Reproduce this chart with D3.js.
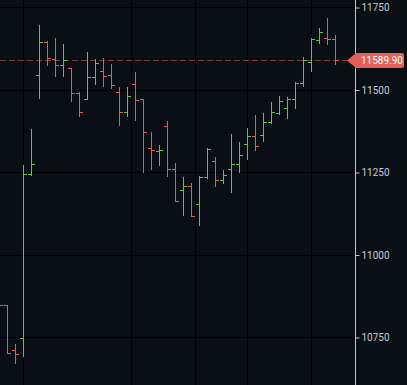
<!DOCTYPE html>
<html lang="en">
<head>
<meta charset="utf-8" />
<title>ohlc</title>
<script src="https://d3js.org/d3.v7.min.js"></script>
<style>
  html, body { margin: 0; padding: 0; background: #0a0f16; overflow: hidden; }
  svg { display: block; }
  .tick text { font-family: Roboto, "Open Sans", sans-serif; font-size: 10px; fill: #c9cbce; }
</style>
</head>
<body>
<div id="chart"></div>
<script>
// bar values, first bar is half cut off on the left edge
var opens  = [10870, 10848, 10711, 10747, 11244, 11543, 11644, 11593, 11574, 11565,
              11488, 11471, 11537, 11557, 11545, 11493, 11431, 11517, 11472, 11323,
              11315, 11390, 11260, 11194, 11207, 11153, 11234, 11283, 11227, 11259,
              11274, 11335, 11360, 11363, 11400, 11429, 11443, 11472, 11520, 11583,
              11649, 11657, 11652];
var highs  = [10880, 10850, 10730, 11274, 11383, 11698, 11649, 11659, 11640, 11567,
              11495, 11614, 11595, 11598, 11580, 11508, 11510, 11556, 11474, 11372,
              11333, 11405, 11280, 11237, 11219, 11239, 11323, 11296, 11257, 11366,
              11343, 11386, 11423, 11431, 11464, 11482, 11478, 11523, 11600, 11659,
              11689, 11717, 11668];
var lows   = [10840, 10700, 10669, 10691, 11239, 11474, 11574, 11540, 11540, 11464,
              11417, 11469, 11516, 11508, 11502, 11391, 11417, 11406, 11249, 11259,
              11271, 11235, 11161, 11117, 11114, 11088, 11229, 11206, 11214, 11188,
              11249, 11289, 11314, 11343, 11396, 11424, 11411, 11441, 11508, 11555,
              11638, 11636, 11577];
var closes = [10848, 10702, 10699, 11244, 11274, 11644, 11595, 11574, 11590, 11488,
              11432, 11537, 11581, 11541, 11515, 11432, 11481, 11469, 11370, 11316,
              11317, 11260, 11163, 11209, 11118, 11236, 11321, 11227, 11242, 11274,
              11302, 11360, 11330, 11402, 11431, 11464, 11472, 11520, 11589, 11653,
              11674, 11652, 11589.9];

var yTicks = [10750, 11000, 11250, 11500, 11750];
// vertical grid lines, in bar index units (time separators)
var gridIdx = [3, 16.5, 24.5, 31, 39];
var lastPrice = 11589.90;

var width = 407, height = 385;
var axisX = 355.5;
var up = "#66c24a", down = "#e85a55";

var svg = d3.select("#chart").append("svg")
    .attr("width", width)
    .attr("height", height);

svg.append("rect")
    .attr("width", width).attr("height", height)
    .attr("fill", "#0a0f16");

var x = d3.scaleLinear().domain([0, 42]).range([-0.5, 335.5]);
var y = d3.scaleLinear().domain([10750, 11750]).range([337.5, 7.5]);

function py(v) { return Math.round(y(v) - 0.5) + 0.5; }

// grid
svg.append("g").selectAll("line")
    .data(yTicks).enter().append("line")
    .attr("x1", 0).attr("x2", axisX)
    .attr("y1", function(d){ return py(d); })
    .attr("y2", function(d){ return py(d); })
    .attr("stroke", "#000").attr("stroke-width", 1);

svg.append("g").selectAll("line")
    .data(gridIdx).enter().append("line")
    .attr("x1", function(d){ return x(d); })
    .attr("x2", function(d){ return x(d); })
    .attr("y1", 0).attr("y2", height)
    .attr("stroke", "#000").attr("stroke-width", 1);

// last price dashed line
svg.append("line")
    .attr("x1", 0).attr("x2", 347)
    .attr("y1", py(lastPrice)).attr("y2", py(lastPrice))
    .attr("stroke", "#e0625b").attr("stroke-opacity", 0.55)
    .attr("stroke-dasharray", "6,3");

// bars: one path per bar (high-low, open tick left, close tick right)
svg.append("g").selectAll("path")
    .data(opens).enter().append("path")
    .attr("fill", "none")
    .attr("stroke-width", 1)
    .attr("shape-rendering", "crispEdges")
    .attr("stroke", function(d, i){ return closes[i] >= opens[i] ? up : down; })
    .attr("d", function(d, i){
        var cx = x(i);
        return "M" + cx + "," + Math.round(y(highs[i])) + "V" + Math.round(y(lows[i])) +
               "M" + (cx - 3.5) + "," + py(opens[i]) + "H" + cx +
               "M" + cx + "," + py(closes[i]) + "H" + (cx + 3.5);
    });

// right price axis
svg.append("line")
    .attr("x1", axisX).attr("x2", axisX)
    .attr("y1", 0).attr("y2", height)
    .attr("stroke", "#c4c6c9");

var yAxis = d3.axisRight(y)
    .tickValues(yTicks)
    .tickSize(4)
    .tickPadding(2)
    .tickFormat(d3.format("d"));

var ax = svg.append("g")
    .attr("transform", "translate(" + axisX + ",0)")
    .call(yAxis);
ax.select(".domain").remove();
ax.selectAll(".tick line").attr("stroke", "#c4c6c9");

// last price label
var ly = py(lastPrice);
svg.append("path")
    .attr("d", "M347," + ly + " L356," + (ly - 7.5) + " L402," + (ly - 7.5) +
               " Q404," + (ly - 7.5) + " 404," + (ly - 5.5) + " L404," + (ly + 5.5) +
               " Q404," + (ly + 7.5) + " 402," + (ly + 7.5) + " L356," + (ly + 7.5) + " Z")
    .attr("fill", "#e3605a");

svg.append("text")
    .attr("x", 361).attr("y", ly)
    .attr("dy", "0.35em")
    .attr("font-family", "Roboto, sans-serif")
    .attr("font-size", "10px")
    .attr("fill", "#fff")
    .text(d3.format(".2f")(lastPrice));
</script>
</body>
</html>
